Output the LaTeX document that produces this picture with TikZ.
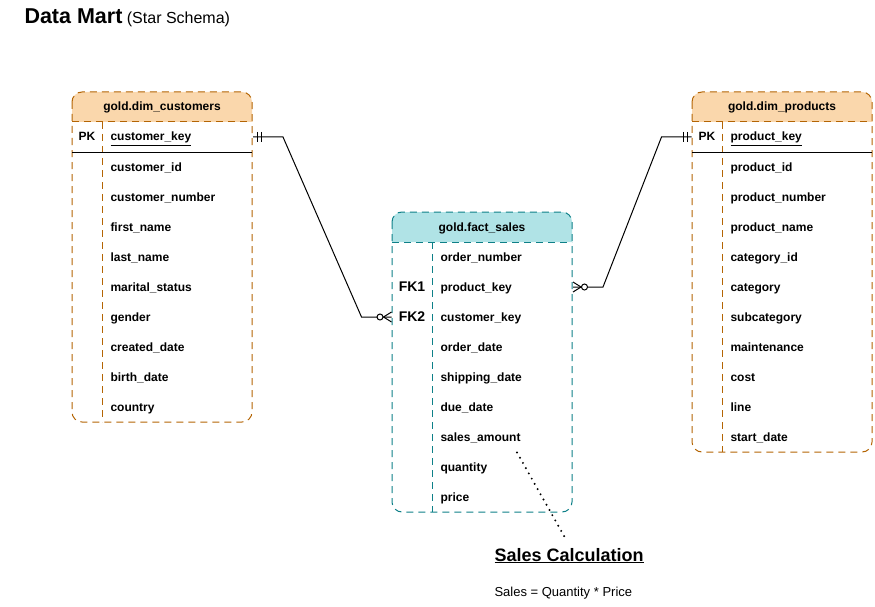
\documentclass[tikz,border=0pt]{standalone}
\usepackage{fontspec}
\setmainfont{Liberation Sans}
\usetikzlibrary{calc}

\definecolor{dimfill}{HTML}{FAD7AC}
\definecolor{dimline}{HTML}{B46504}
\definecolor{factfill}{HTML}{B0E3E6}
\definecolor{factline}{HTML}{0E8088}

\tikzset{
    tbl/.style={dash pattern=on 7pt off 5pt},
    field/.style={anchor=west, inner xsep=8pt, inner ysep=0pt, minimum height=30pt,
        text height=9.5pt, text depth=1.5pt,
        text width=#1, align=left, font=\bfseries\fontsize{12}{14}\selectfont},
    keycol/.style={minimum width=#1, minimum height=30pt, inner sep=0pt,
        text height=9.5pt, text depth=1.5pt,
        font=\bfseries\fontsize{12}{14}\selectfont},
    hdr/.style={inner sep=0pt, text height=9.5pt, text depth=1.5pt,
        font=\bfseries\fontsize{12}{14}\selectfont}
}

\begin{document}
\begin{tikzpicture}[x=1pt, y=-1pt, line width=1pt]
    \fill[white] (0,0) rectangle (875,607);

    \node[anchor=base west, inner sep=0pt] (title) at (24,24)
        {{\fontsize{21.5}{24}\selectfont\bfseries Data Mart}{\fontsize{16}{18}\selectfont\ (Star Schema)}};

    \fill[dimfill] (72,122) [rounded corners=10pt] -- (72,92) -- (252,92) [sharp corners] -- (252,122) -- cycle;
    \fill[factfill] (392,242) [rounded corners=10pt] -- (392,212) -- (572,212) [sharp corners] -- (572,242) -- cycle;
    \fill[dimfill] (692,122) [rounded corners=10pt] -- (692,92) -- (872,92) [sharp corners] -- (872,122) -- cycle;

    \draw[tbl, dimline, rounded corners=10pt] (72,92) rectangle (252,422);
    \draw[tbl, dimline] (72,122) -- (252,122);
    \draw[tbl, dimline] (102,122) -- (102,422);
    \draw (72,152) -- (252,152);

    \draw[tbl, factline, rounded corners=10pt] (392,212) rectangle (572,512);
    \draw[tbl, factline] (392,242) -- (572,242);
    \draw[tbl, factline] (432,242) -- (432,512);

    \draw[tbl, dimline, rounded corners=10pt] (692,92) rectangle (872,452);
    \draw[tbl, dimline] (692,122) -- (872,122);
    \draw[tbl, dimline] (722,122) -- (722,452);
    \draw (692,152) -- (872,152);

    \node[hdr] (custhdr) at (162,107) {gold.dim\_customers};
    \node[hdr] (facthdr) at (482,227) {gold.fact\_sales};
    \node[hdr] (prodhdr) at (782,107) {gold.dim\_products};

    \node[keycol=30pt] (custpk) at (87,137) {PK};
    \node[field=134pt] (cust1) at (102,137) {\underline{customer\_key}};
    \foreach \f [count=\i from 2] in {customer\_id, customer\_number, first\_name, last\_name,
        marital\_status, gender, created\_date, birth\_date, country}
        \node[field=134pt] (cust\i) at (102,{107+30*\i}) {\f};

    \node[keycol=30pt] (prodpk) at (707,137) {PK};
    \node[field=134pt] (prod1) at (722,137) {\underline{product\_key}};
    \foreach \f [count=\i from 2] in {product\_id, product\_number, product\_name, category\_id,
        category, subcategory, maintenance, cost, line, start\_date}
        \node[field=134pt] (prod\i) at (722,{107+30*\i}) {\f};

    \node[keycol=40pt, font=\bfseries\fontsize{14}{16}\selectfont] (fk1) at (412,287) {FK1};
    \node[keycol=40pt, font=\bfseries\fontsize{14}{16}\selectfont] (fk2) at (412,317) {FK2};
    \foreach \f [count=\i] in {order\_number, product\_key, customer\_key, order\_date,
        shipping\_date, due\_date, sales\_amount, quantity, price}
        \node[field=124pt] (fact\i) at (432,{227+30*\i}) {\f};

    \draw (cust1.east) -- ++(30,0) -- ($(fk2.west)+(-30,0)$) -- (fk2.west);
    \draw ($(cust1.east)+(4,-5)$) -- ++(0,10);
    \draw ($(cust1.east)+(8,-5)$) -- ++(0,10);
    \draw ($(fk2.west)+(0,-5)$) -- ($(fk2.west)+(-8,0)$) -- ($(fk2.west)+(0,5)$);
    \draw[fill=white] ($(fk2.west)+(-11.5,0)$) circle (3pt);

    \draw (prodpk.west) -- ++(-30,0) -- ($(fact2.east)+(30,0)$) -- (fact2.east);
    \draw ($(prodpk.west)+(-4,-5)$) -- ++(0,10);
    \draw ($(prodpk.west)+(-8,-5)$) -- ++(0,10);
    \draw ($(fact2.east)+(0,-5)$) -- ($(fact2.east)+(8,0)$) -- ($(fact2.east)+(0,5)$);
    \draw[fill=white] ($(fact2.east)+(11.5,0)$) circle (3pt);

    \coordinate (amt) at ($(fact7.south west)+(85,0)$);
    \node[anchor=base west, inner sep=0pt, font=\bfseries\fontsize{18}{20}\selectfont] (calc) at (494,561)
        {\underline{Sales Calculation}};
    \node[anchor=base west, inner sep=0pt, font=\fontsize{13}{15}\selectfont] (formula) at (494,596)
        {Sales = Quantity * Price};
    \draw[line width=2.2pt, dash pattern=on 0pt off 6pt, line cap=round] (amt) -- ($(calc.north)+(-3,-8)$);
\end{tikzpicture}
\end{document}
